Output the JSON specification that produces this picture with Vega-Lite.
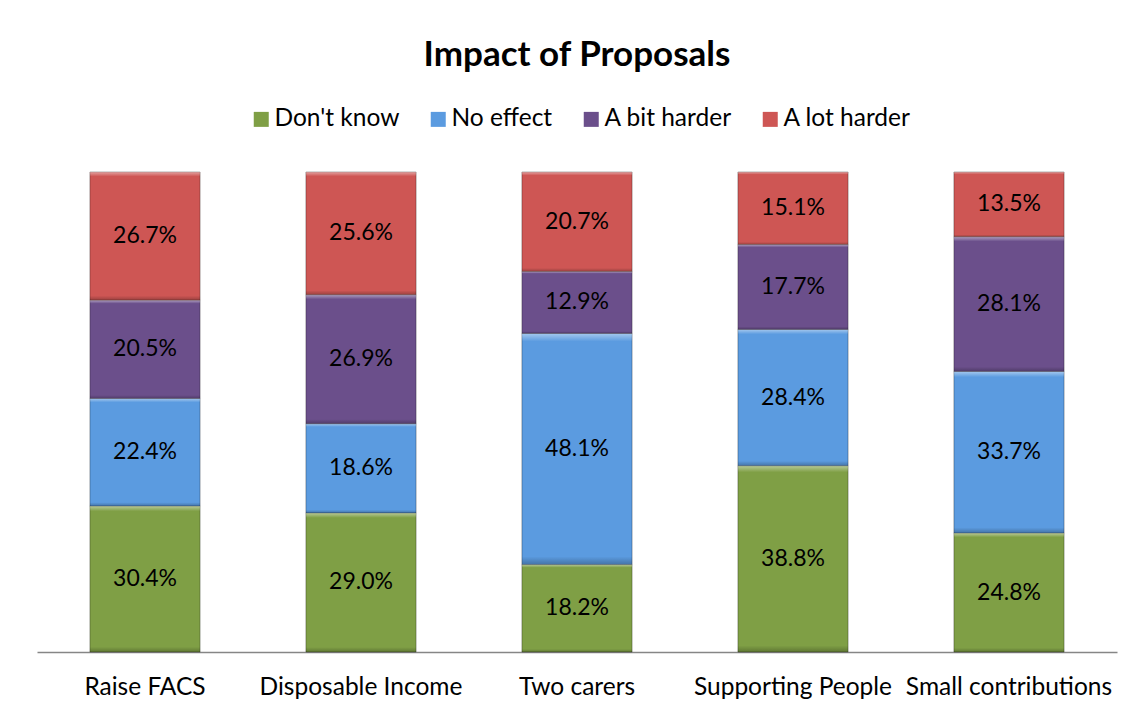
{
  "$schema": "https://vega.github.io/schema/vega-lite/v6.json",
  "width": 1080,
  "height": 480,
  "autosize": {"type": "none"},
  "padding": {"left": 37, "top": 172, "right": 17, "bottom": 61},
  "background": "white",
  "config": {"view": {"stroke": null}, "font": "Lato"},
  "title": {
    "text": "Impact of Proposals",
    "anchor": "middle",
    "frame": "group",
    "font": "Lato",
    "fontSize": 35,
    "fontWeight": "bold",
    "color": "black",
    "offset": 34
  },
  "data": {
    "values": [
      {"proposal": "Raise FACS", "response": "Don't know", "order": 1, "share": 0.304},
      {"proposal": "Raise FACS", "response": "No effect", "order": 2, "share": 0.224},
      {"proposal": "Raise FACS", "response": "A bit harder", "order": 3, "share": 0.205},
      {"proposal": "Raise FACS", "response": "A lot harder", "order": 4, "share": 0.267},
      {"proposal": "Disposable Income", "response": "Don't know", "order": 1, "share": 0.290},
      {"proposal": "Disposable Income", "response": "No effect", "order": 2, "share": 0.186},
      {"proposal": "Disposable Income", "response": "A bit harder", "order": 3, "share": 0.269},
      {"proposal": "Disposable Income", "response": "A lot harder", "order": 4, "share": 0.256},
      {"proposal": "Two carers", "response": "Don't know", "order": 1, "share": 0.182},
      {"proposal": "Two carers", "response": "No effect", "order": 2, "share": 0.481},
      {"proposal": "Two carers", "response": "A bit harder", "order": 3, "share": 0.129},
      {"proposal": "Two carers", "response": "A lot harder", "order": 4, "share": 0.207},
      {"proposal": "Supporting People", "response": "Don't know", "order": 1, "share": 0.388},
      {"proposal": "Supporting People", "response": "No effect", "order": 2, "share": 0.284},
      {"proposal": "Supporting People", "response": "A bit harder", "order": 3, "share": 0.177},
      {"proposal": "Supporting People", "response": "A lot harder", "order": 4, "share": 0.151},
      {"proposal": "Small contributions", "response": "Don't know", "order": 1, "share": 0.248},
      {"proposal": "Small contributions", "response": "No effect", "order": 2, "share": 0.337},
      {"proposal": "Small contributions", "response": "A bit harder", "order": 3, "share": 0.281},
      {"proposal": "Small contributions", "response": "A lot harder", "order": 4, "share": 0.135}
    ]
  },
  "transform": [
    {"stack": "share", "groupby": ["proposal"], "sort": [{"field": "order", "order": "ascending"}], "offset": "normalize", "as": ["v0", "v1"]},
    {"calculate": "(datum.v0 + datum.v1) / 2", "as": "mid"}
  ],
  "encoding": {
    "x": {
      "field": "proposal",
      "type": "nominal",
      "sort": ["Raise FACS", "Disposable Income", "Two carers", "Supporting People", "Small contributions"],
      "scale": {"paddingInner": 0.49, "paddingOuter": 0.245},
      "axis": {
        "title": null,
        "labelAngle": 0,
        "ticks": false,
        "domainColor": "#868686",
        "domainWidth": 1.5,
        "labelFont": "Lato",
        "labelFontSize": 24.5,
        "labelColor": "black",
        "labelPadding": 23,
        "labelLimit": 400
      }
    }
  },
  "layer": [
    {
      "mark": {"type": "bar", "stroke": "#000000", "strokeOpacity": 0.3, "strokeWidth": 1},
      "encoding": {
        "y": {"field": "v0", "type": "quantitative", "scale": {"domain": [0, 1]}, "axis": null},
        "y2": {"field": "v1"},
        "color": {
          "field": "response",
          "type": "nominal",
          "scale": {
            "domain": ["Don't know", "No effect", "A bit harder", "A lot harder"],
            "range": ["#7F9F45", "#5B9BE0", "#6B4F8B", "#CE5654"]
          },
          "legend": {
            "title": null,
            "orient": "none",
            "direction": "horizontal",
            "legendX": 212,
            "legendY": -65,
            "padding": 0,
            "symbolType": "square",
            "symbolSize": 225,
            "symbolStrokeWidth": 0,
            "labelFont": "Lato",
            "labelFontSize": 24.5,
            "labelColor": "black",
            "labelOffset": 1,
            "labelLimit": 300,
            "columnPadding": 26
          }
        }
      }
    },
    {
      "mark": {
        "type": "bar",
        "fill": {
          "gradient": "linear",
          "x1": 0, "y1": 0, "x2": 0, "y2": 1,
          "stops": [
            {"offset": 0, "color": "rgba(255,255,255,0.45)"},
            {"offset": 0.035, "color": "rgba(255,255,255,0.0)"},
            {"offset": 0.965, "color": "rgba(0,0,0,0.0)"},
            {"offset": 1, "color": "rgba(0,0,0,0.25)"}
          ]
        }
      },
      "encoding": {
        "y": {"field": "v0", "type": "quantitative", "scale": {"domain": [0, 1]}},
        "y2": {"field": "v1"}
      }
    },
    {
      "mark": {"type": "text", "font": "Lato", "fontSize": 23, "color": "black", "baseline": "middle", "align": "center"},
      "encoding": {
        "y": {"field": "mid", "type": "quantitative", "scale": {"domain": [0, 1]}},
        "text": {"field": "share", "type": "quantitative", "format": ".1%"}
      }
    }
  ]
}
